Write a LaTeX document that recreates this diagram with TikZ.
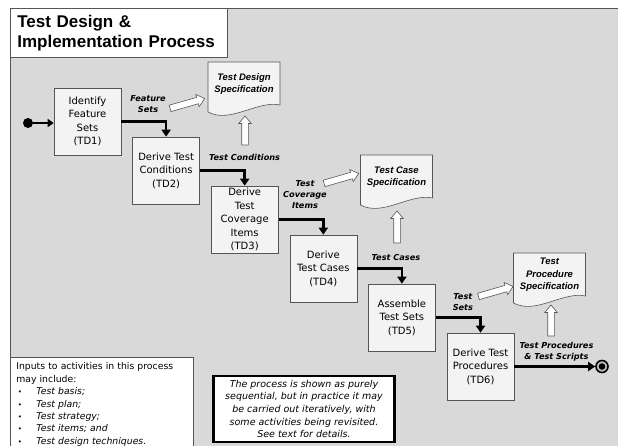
\documentclass[tikz,border=0pt]{standalone}
\usepackage{fontspec}
\setmainfont{DejaVu Sans}
\newfontfamily\arialfont{Liberation Sans}
\usetikzlibrary{calc,shapes.arrows,arrows.meta}

\definecolor{panelgray}{HTML}{D9D9D9}
\definecolor{boxgray}{HTML}{F3F3F3}
\definecolor{edgegray}{HTML}{555555}

% document shape with a wavy bottom: name, centre, text
\newcommand{\specdoc}[3]{%
  \draw[edgegray, fill=boxgray, line width=.6pt] ($(#2)+(-36,-22)$) -- ($(#2)+(36,-22)$) -- ($(#2)+(36,21)$)
    .. controls ($(#2)+(14,16)$) and ($(#2)+(-14,40)$) .. ($(#2)+(-36,28)$) -- cycle;
  \node[doctext] (#1) at (#2) {#3};}
% small list bullet
\newcommand{\itembullet}{\makebox[20pt][l]{\hspace{1.5pt}\fontsize{7}{7}\selectfont\textbullet}}

\begin{document}
\begin{tikzpicture}[x=1pt, y=-1pt]
    \tikzstyle{tdbox}=[draw=edgegray, fill=boxgray, line width=.6pt, minimum width=67pt, minimum height=67pt,
        inner sep=1pt, align=center, font=\fontsize{10}{13.5}\selectfont]
    \tikzstyle{doctext}=[inner sep=0, align=center, font=\arialfont\bfseries\itshape\fontsize{9.5}{12.5}\selectfont]
    \tikzstyle{lbl}=[inner sep=0, align=center, font=\fontsize{8.2}{11}\selectfont\bfseries\itshape]
    \tikzstyle{flow}=[line width=2.6pt, -{Triangle[length=7pt, width=9pt]}]
    \tikzstyle{hollow}=[single arrow, draw=edgegray, fill=white, line width=.6pt, inner xsep=0pt, inner ysep=3pt,
        single arrow head extend=3pt, single arrow tip angle=80, minimum height=#1]

    \useasboundingbox (0,0) rectangle (618,446);
    \fill[white] (0,0) rectangle (618,446);
    \draw[edgegray, fill=panelgray, line width=.8pt] (10,8) rectangle (630,460);

    % title
    \node[anchor=north west, draw=edgegray, fill=white, line width=.6pt, minimum width=217pt, minimum height=49pt,
        text width=203pt, inner xsep=7pt, align=left, font=\arialfont\bfseries\fontsize{17}{20}\selectfont]
        (title) at (10,8) {Test Design \&\\Implementation Process};

    % activities, one step down and right each time
    \node[tdbox] (TD1) at (87.5,121.5) {Identify\\Feature\\Sets\\(TD1)};
    \node[tdbox] (TD2) at ($(TD1)+(78.6,49)$) {Derive Test\\Conditions\\(TD2)};
    \node[tdbox] (TD3) at ($(TD2)+(78.6,49)$) {Derive\\Test\\Coverage\\Items\\(TD3)};
    \node[tdbox] (TD4) at ($(TD3)+(78.6,49)$) {Derive\\Test Cases\\(TD4)};
    \node[tdbox] (TD5) at ($(TD4)+(78.6,49)$) {Assemble\\Test Sets\\(TD5)};
    \node[tdbox] (TD6) at ($(TD5)+(78.6,49)$) {Derive Test\\Procedures\\(TD6)};

    % start and end points
    \node[circle, fill=black, inner sep=0, minimum size=10pt] (start) at (28,123) {};
    \node[circle, draw=black, fill=black!25, line width=1.6pt, inner sep=0, minimum size=12pt,
        path picture={\fill[black] (path picture bounding box.center) circle (3.3pt);}] (stop) at (602,366.5) {};

    % specifications
    \specdoc{designdoc}{244,84}{Test Design\\Specification}
    \specdoc{casedoc}{396.5,177}{Test Case\\Specification}
    \specdoc{procdoc}{549.5,275}{Test\\Procedure\\Specification}

    % outputs
    \node[lbl] (featlbl) at ($(TD1)+(60.5,-17)$) {Feature\\Sets};
    \node[lbl] (condlbl) at ($(TD2)+(78.5,-13.5)$) {Test Conditions};
    \node[lbl] (covlbl) at ($(TD3)+(60.3,-24.5)$) {Test\\Coverage\\Items};
    \node[lbl] (caselbl) at ($(TD4)+(72.7,-10.5)$) {Test Cases};
    \node[lbl] (setslbl) at ($(TD5)+(61,-15)$) {Test\\Sets};
    \node[lbl] (proclbl) at ($(TD6)+(76,-15)$) {Test Procedures\\\& Test Scripts};

    \node[hollow=36pt, rotate=16] (featarr) at ($(featlbl)+(37.5,-0.5)$) {};
    \node[hollow=29pt, rotate=90] (condarr) at ($(designdoc)+(1,48.5)$) {};
    \node[hollow=36pt, rotate=16] (covarr) at ($(covlbl)+(34.5,-16)$) {};
    \node[hollow=32pt, rotate=90] (casearr) at ($(casedoc)+(0.5,52)$) {};
    \node[hollow=36pt, rotate=16] (setsarr) at ($(setslbl)+(31,-10.5)$) {};
    \node[hollow=31pt, rotate=90] (procarr) at ($(procdoc)+(1.5,47.5)$) {};

    % control flow
    \draw[line width=2pt, -{Triangle[length=6pt, width=8pt]}] (start) -- (start -| TD1.west);
    \draw[flow] (TD1) -| (TD2);
    \draw[flow] (TD2) -| (TD3);
    \draw[flow] (TD3) -| (TD4);
    \draw[flow] (TD4) -| (TD5);
    \draw[flow] (TD5) -| (TD6);
    \draw[flow] (TD6) -- (stop);

    % notes
    \node[anchor=north west, draw=edgegray, fill=white, line width=.6pt, minimum width=183pt, text width=171pt,
        inner xsep=6pt, inner ysep=5.5pt, align=left, font=\fontsize{9.3}{12.4}\selectfont] (inputs) at (10,357)
        {Inputs to activities in this process\\may include:\\
        \itembullet\textit{Test basis;}\\
        \itembullet\textit{Test plan;}\\
        \itembullet\textit{Test strategy;}\\
        \itembullet\textit{Test items; and}\\
        \itembullet\textit{Test design techniques.}};
    \node[draw=black, fill=white, line width=2.5pt, minimum width=181pt, minimum height=66pt, align=center,
        font=\fontsize{9.5}{12.7}\selectfont\itshape] (note) at (304,409)
        {The process is shown as purely\\sequential, but in practice it may\\be carried out iteratively, with\\some activities being revisited.\\See text for details.};
\end{tikzpicture}
\end{document}
